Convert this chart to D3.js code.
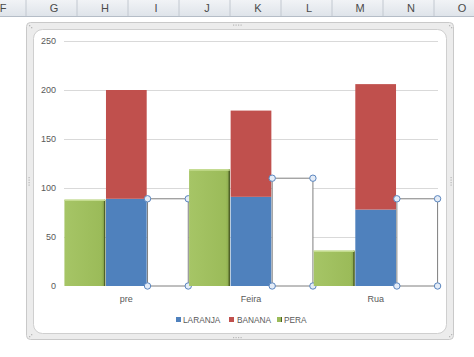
<!DOCTYPE html>
<html><head><meta charset="utf-8">
<script src="https://cdn.jsdelivr.net/npm/d3@7"></script>
<style>html,body{margin:0;padding:0;background:#fff;}svg{display:block;font-family:"Liberation Sans","DejaVu Sans",sans-serif;}</style>
</head><body><svg id="c" width="474" height="357"></svg>
<script>
const categories = ["pre", "Feira", "Rua"];
const laranja = [89, 91, 78];
const banana = [111, 88, 128];
const pera = [88, 119, 36];
const boxValues = [89, 110, 89];
const yTicks = [0, 50, 100, 150, 200, 250];
const seriesNames = ["LARANJA", "BANANA", "PERA"];
const seriesColors = ["#4f81bd", "#c0504d", "#9bbb59"];
const columnLetters = ["F","G","H","I","J","K","L","M","N","O"];

const svg = d3.select("#c");

// Spreadsheet column header
const colX = d3.scaleLinear().domain([0, 1]).range([-25.5, 25.5]);
const defs = svg.append("defs");
const hg = defs.append("linearGradient").attr("id","hg").attr("x1",0).attr("y1",0).attr("x2",0).attr("y2",1);
hg.append("stop").attr("offset",0).attr("stop-color","#f1f3f6");
hg.append("stop").attr("offset",1).attr("stop-color","#dfe4ea");
svg.append("rect").attr("x",0).attr("y",0).attr("width",474).attr("height",16).attr("fill","url(#hg)");
svg.append("line").attr("x1",0).attr("x2",474).attr("y1",16.5).attr("y2",16.5).attr("stroke","#b5bdc7");
columnLetters.forEach((l,i)=>{
  const cx = colX(i) + 28.5;
  svg.append("line").attr("x1",colX(i)+51.5).attr("x2",colX(i)+51.5).attr("y1",0).attr("y2",16).attr("stroke","#c2c8d0");
  svg.append("text").attr("x",cx).attr("y",12).attr("text-anchor","middle").attr("font-size",11).attr("fill","#4a4a4a").text(l);
});

// Chart frame
svg.append("rect").attr("x",26.5).attr("y",22.5).attr("width",427).attr("height",317).attr("rx",4)
  .attr("fill","#ececec").attr("stroke","#c9c9c9");
svg.append("rect").attr("x",33.5).attr("y",29.5).attr("width",413).attr("height",304).attr("rx",9)
  .attr("fill","#fff").attr("stroke","#cfcfcf");
// frame handle dots
const dotG = svg.append("g").attr("fill","#b8b8b8");
[0,1,2,3].forEach(k=>{
  dotG.append("rect").attr("x",233+k*2.5).attr("y",24.5).attr("width",1.2).attr("height",1.2);
  dotG.append("rect").attr("x",233+k*2.5).attr("y",337).attr("width",1.2).attr("height",1.2);
  dotG.append("rect").attr("x",28.5).attr("y",177+k*2.5).attr("width",1.2).attr("height",1.2);
  dotG.append("rect").attr("x",450.5).attr("y",177+k*2.5).attr("width",1.2).attr("height",1.2);
});
[[29,25],[31,27],[449,25],[451,27],[29,336],[31,334],[449,336],[451,334]].forEach(p=>{
  dotG.append("rect").attr("x",p[0]).attr("y",p[1]).attr("width",1.3).attr("height",1.3);
});

// Scales
const y = d3.scaleLinear().domain([0, 250]).range([286, 41]);
const x = d3.scaleBand().domain(categories).range([64, 438]).paddingInner(0).paddingOuter(0);
const sub = d3.scaleBand().domain(["pera","stack","box"]).range([0, x.bandwidth()]).paddingInner(0.02).paddingOuter(0.01);

// Grid
svg.append("g").selectAll("line").data(yTicks.filter(d=>d>0)).join("line")
  .attr("x1",64).attr("x2",438).attr("y1",d=>Math.round(y(d))+0.5).attr("y2",d=>Math.round(y(d))+0.5)
  .attr("stroke","#d9d9d9");

// Y axis labels
const yAxis = d3.axisLeft(y).tickValues(yTicks).tickSize(0).tickPadding(8);
const ya = svg.append("g").attr("transform","translate(64,0)").call(yAxis);
ya.select(".domain").remove();
ya.selectAll("text").attr("font-size",9).attr("fill","#595959").attr("font-family","Liberation Sans, sans-serif");

// X axis labels
const xAxis = d3.axisBottom(x).tickSize(0).tickPadding(8);
const xa = svg.append("g").attr("transform","translate(0,288)").call(xAxis);
xa.select(".domain").remove();
xa.selectAll("text").attr("font-size",9).attr("fill","#595959").attr("font-family","Liberation Sans, sans-serif");

// Green gradient
const gg = defs.append("linearGradient").attr("id","gg").attr("x1",0).attr("y1",0).attr("x2",1).attr("y2",0);
gg.append("stop").attr("offset",0).attr("stop-color","#a6c566");
gg.append("stop").attr("offset",0.9).attr("stop-color","#9bbb59");
gg.append("stop").attr("offset",1).attr("stop-color","#86a34b");

const bw = sub.bandwidth();
categories.forEach((c,i)=>{
  const x0 = x(c);
  // pera
  const px = x0 + sub("pera");
  svg.append("rect").attr("x",px).attr("y",y(pera[i])).attr("width",bw).attr("height",y(0)-y(pera[i])).attr("fill","url(#gg)");
  svg.append("line").attr("x1",px+bw-0.5).attr("x2",px+bw-0.5).attr("y1",y(pera[i])).attr("y2",y(0)).attr("stroke","#4f6228").attr("stroke-width",1.5);
  svg.append("line").attr("x1",px).attr("x2",px+bw).attr("y1",y(pera[i])+0.5).attr("y2",y(pera[i])+0.5).attr("stroke","#c4dc8f").attr("stroke-width",1.5);
  // stacked laranja + banana
  const sx = x0 + sub("stack");
  svg.append("rect").attr("x",sx).attr("y",y(laranja[i])).attr("width",bw).attr("height",y(0)-y(laranja[i])).attr("fill",seriesColors[0]);
  svg.append("rect").attr("x",sx).attr("y",y(laranja[i]+banana[i])).attr("width",bw).attr("height",y(laranja[i])-y(laranja[i]+banana[i])).attr("fill",seriesColors[1]);
  // selected empty box
  const bx = x0 + sub("box");
  const top = y(boxValues[i]);
  svg.append("rect").attr("x",bx).attr("y",top).attr("width",bw).attr("height",y(0)-top)
    .attr("fill","#fff").attr("stroke","#7f7f7f").attr("stroke-width",1);
  [[bx,top],[bx+bw,top],[bx,y(0)],[bx+bw,y(0)]].forEach(p=>{
    svg.append("circle").attr("cx",p[0]).attr("cy",p[1]).attr("r",3.2).attr("fill","#e4ecf7").attr("stroke","#5b86bf").attr("stroke-width",1);
  });
});

// Legend
const legendX = [176, 229, 277];
const textOffset = [7, 8, 7];
seriesNames.forEach((n,i)=>{
  const g = svg.append("g").attr("transform",`translate(${legendX[i]},317)`);
  g.append("rect").attr("x",0).attr("y",0).attr("width",5).attr("height",5).attr("fill",seriesColors[i]);
  if (i === 2) {
    g.append("line").attr("x1",4.5).attr("x2",4.5).attr("y1",0).attr("y2",5).attr("stroke","#4f6228");
  }
  g.append("text").attr("x", textOffset[i]).attr("y",6).attr("font-size",8.3)
    .attr("fill","#595959").text(n);
});
</script></body></html>
